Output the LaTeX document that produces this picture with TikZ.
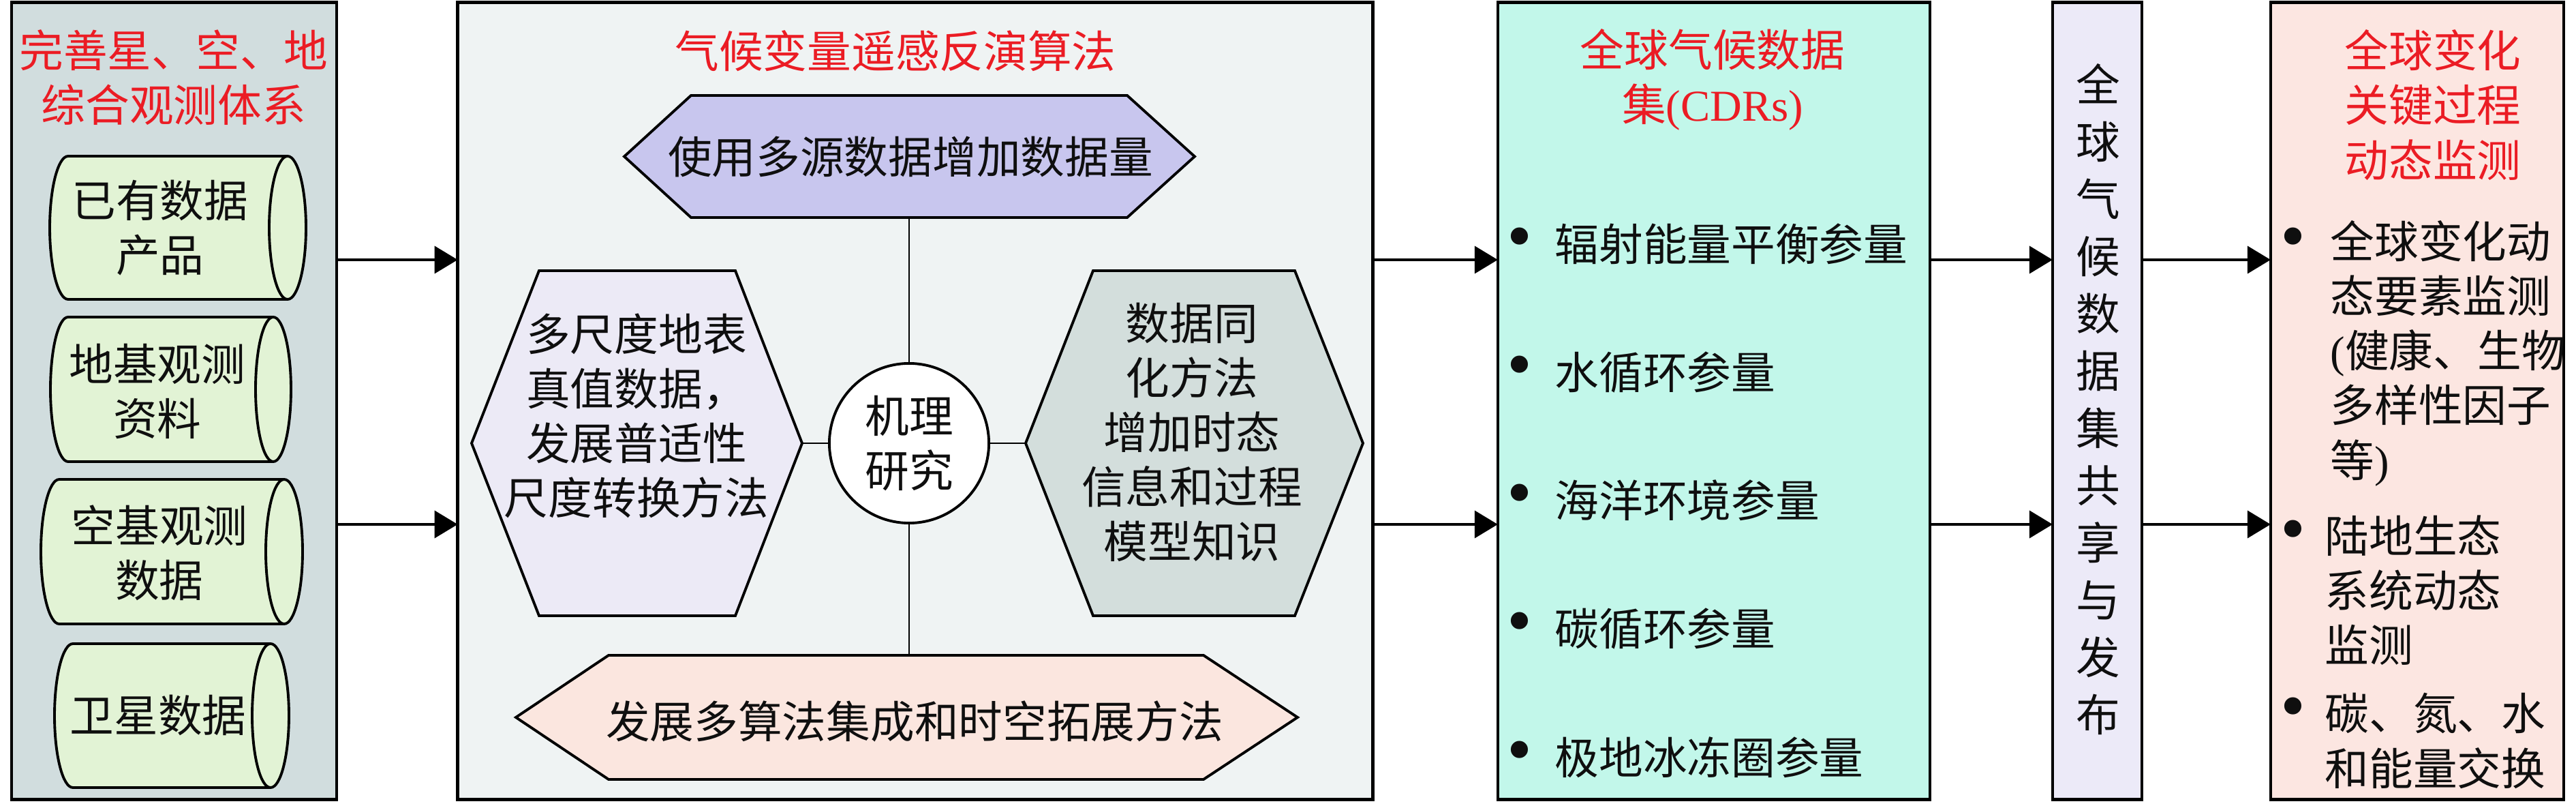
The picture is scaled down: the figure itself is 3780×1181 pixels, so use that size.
\documentclass[tikz,border=0pt]{standalone}
\usepackage{fontspec}
\setmainfont{Liberation Serif}
\newfontfamily\cjk{Noto Sans CJK SC}
\usetikzlibrary{arrows.meta}
\definecolor{pAfill}{RGB}{209,221,222}
\definecolor{cylfill}{RGB}{226,243,213}
\definecolor{pBfill}{RGB}{239,243,243}
\definecolor{hexTfill}{RGB}{200,198,238}
\definecolor{hexLfill}{RGB}{236,234,246}
\definecolor{hexRfill}{RGB}{211,222,220}
\definecolor{hexBfill}{RGB}{251,230,223}
\definecolor{pCfill}{RGB}{194,247,234}
\definecolor{pDfill}{RGB}{236,234,248}
\definecolor{pEfill}{RGB}{252,230,225}
\definecolor{titlered}{RGB}{235,28,36}
\definecolor{txtblack}{RGB}{15,15,15}
\newcommand\drumshape[5]{%
  \filldraw[fill=cylfill, draw=black, line width=1.1pt] (#1,#3+#4) -- (#2,#3+#4)
    arc[start angle=90,end angle=-90,x radius=#5,y radius=#4] -- (#1,#3-#4)
    arc[start angle=270,end angle=90,x radius=#5,y radius=#4] -- cycle;
  \draw[line width=1.1pt] (#2,#3+#4) arc[start angle=90,end angle=270,x radius=#5,y radius=#4];
}
\newcommand\hexshape[7]{%
  \filldraw[fill=#7, draw=black, line width=1.1pt] (#1,#5) -- (#2,#5+#6) -- (#3,#5+#6) -- (#4,#5) -- (#3,#5-#6) -- (#2,#5-#6) -- cycle;
}
\begin{document}
\begin{tikzpicture}[x=0.01cm,y=0.01cm,
  panel/.style={draw=black, line width=1.3pt, inner sep=0pt, outer sep=0pt, minimum height=11.68cm},
  thinline/.style={draw=black, line width=0.5pt},
  arr/.style={line width=1.1pt, -{Triangle[length=0.34cm,width=0.40cm]}},
  txt/.style={font=\cjk\fontsize{18.4}{22.8}\selectfont, text=txtblack, inner sep=0pt, align=center},
  ttl/.style={txt, text=titlered},
  bul/.style={txt, font=\rmfamily\fontsize{30}{30}\selectfont},
]
\useasboundingbox (0,0) rectangle (3780,1181);
% panels
\node[panel, fill=pAfill, minimum width=4.77cm] (p1) at (255.5,593) {};
\node[panel, fill=pBfill, minimum width=13.42cm] (p2) at (1343,593) {};
\node[panel, fill=pCfill, minimum width=6.34cm] (p3) at (2515,593) {};
\node[panel, fill=pDfill, minimum width=1.31cm] (p4) at (3077.5,593) {};
\node[panel, fill=pEfill, minimum width=4.30cm] (p5) at (3547,593) {};
% arrows between panels
\coordinate (rowA) at (0,800);
\coordinate (rowB) at (0,412);
\foreach \a/\b in {p1/p2,p2/p3,p3/p4,p4/p5}{
  \draw[arr] (\a.east |- rowA) -- (\b.west |- rowA);
  \draw[arr] (\a.east |- rowB) -- (\b.west |- rowB);
}
% panel 1
\node[ttl] (t1) at (255,1067) {完善星、空、地\\综合观测体系};
\drumshape{100}{422}{847}{105}{27}
\drumshape{100}{401}{610}{106}{26}
\drumshape{87}{417}{372}{106}{27}
\drumshape{107}{397}{131.5}{105.5}{27}
\node[txt] (c1) at (235,847) {已有数据\\产品};
\node[txt] (c2) at (231,607) {地基观测\\资料};
\node[txt] (c3) at (234,370) {空基观测\\数据};
\node[txt] (c4) at (232,132) {卫星数据};
% panel 2
\node[ttl] (t2) at (1314,1106) {气候变量遥感反演算法};
\coordinate (hTs) at (1334,862);
\coordinate (hBn) at (1334,220);
\coordinate (hLe) at (1177,531);
\coordinate (hRw) at (1505,531);
\hexshape{916}{1014}{1654}{1753}{951.5}{89.5}{hexTfill}
\hexshape{692}{791}{1079}{1177}{531}{253}{hexLfill}
\hexshape{1505}{1604}{1900}{2000}{531}{253}{hexRfill}
\hexshape{757}{893}{1766}{1904}{129}{91}{hexBfill}
\node[txt, circle, draw=black, line width=1.1pt, fill=white, minimum size=2.34cm] (mech) at (1334,531) {机理\\研究};
\draw[thinline] (hTs) -- (mech.north);
\draw[thinline] (mech.south) -- (hBn);
\draw[thinline] (hLe) -- (mech.west);
\draw[thinline] (mech.east) -- (hRw);
\node[txt] (hT) at (1336,951) {使用多源数据增加数据量};
\node[txt] (hL) at (934,571) {多尺度地表\\真值数据，\\发展普适性\\尺度转换方法};
\node[txt] (hR) at (1749,547) {数据同\\化方法\\增加时态\\信息和过程\\模型知识};
\node[txt] (hB) at (1342,123) {发展多算法集成和时空拓展方法};
% panel 3
\node[ttl] (t3) at (2513,1064) {全球气候数据\\集{\rmfamily (CDRs)}};
\foreach \y/\t [count=\i] in {823/辐射能量平衡参量,635/水循环参量,447/海洋环境参量,259/碳循环参量,70/极地冰冻圈参量}{
  \node[bul] (bc\i) at (2230,\y) {•};
  \node[txt, anchor=west] (lc\i) at (2281,\y) {\t};
}
% panel 4
\node[txt, font=\cjk\fontsize{18.4}{23.9}\selectfont] (v4) at (3079,595.5) {全\\球\\气\\候\\数\\据\\集\\共\\享\\与\\发\\布};
% panel 5
\node[ttl] (t5) at (3570,1027) {全球变化\\关键过程\\动态监测};
\node[bul] (be1) at (3365,823) {•};
\node[bul] (be2) at (3365,394) {•};
\node[bul] (be3) at (3365,134) {•};
\node[txt, align=left, anchor=west] (le1) at (3419,663) {全球变化动\\态要素监测\\{\rmfamily (}健康、生物\\多样性因子\\等{\rmfamily )}};
\node[txt, align=left, anchor=west] (le2) at (3411,315) {陆地生态\\系统动态\\监测};
\node[txt, align=left, anchor=west] (le3) at (3411,94.5) {碳、氮、水\\和能量交换};
\end{tikzpicture}
\end{document}
